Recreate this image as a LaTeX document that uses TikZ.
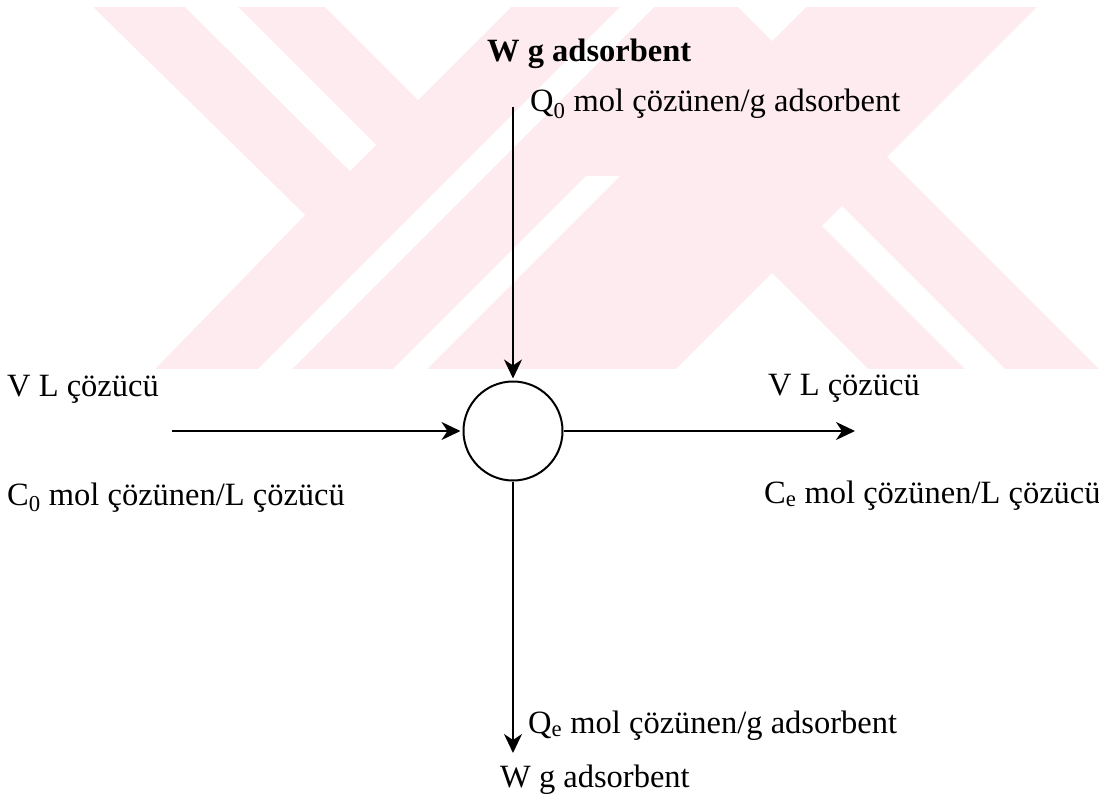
\documentclass[tikz,border=0pt]{standalone}
\usepackage{fontspec}
\setmainfont{Liberation Serif}
\usetikzlibrary{arrows.meta}
\definecolor{wm}{RGB}{253,235,239}
\tikzset{
  lbl/.style={anchor=base west, inner sep=0pt, font=\fontsize{32.5}{35}\selectfont},
  flow/.style={line width=1.8pt, shorten >=2pt, -{Stealth[length=19pt,width=18pt,inset=6pt]}},
  unit/.style={circle, draw, line width=2pt, minimum size=99pt, inner sep=0pt},
  wmfill/.style={fill=wm, draw=none},
  wmgap/.style={fill=white, draw=none}
}
\begin{document}
\begin{tikzpicture}[x=1pt,y=-1pt]
\useasboundingbox (0,0) rectangle (1099,797);
% watermark
\fill[wmfill] (0,7) rectangle (1099,369);
\fill[wmgap] (0,7) -- (93,7) -- (305,215) -- (155,369) -- (0,369) -- cycle;
\fill[wmgap] (185,7) -- (238,7) -- (376,145) -- (350,171) -- cycle;
\fill[wmgap] (325,7) -- (418,100) -- (511,7) -- cycle;
\fill[wmgap] (258,369) -- (292,369) -- (654,7) -- (620,7) -- cycle;
\fill[wmgap] (393,369) -- (427,369) -- (620,176) -- (586,176) -- cycle;
\fill[wmgap] (676,369) -- (772,273) -- (868,369) -- cycle;
\fill[wmgap] (822,226) -- (842,206) -- (1005,369) -- (965,369) -- cycle;
\fill[wmgap] (738,7) -- (772,41) -- (806,7) -- cycle;
\fill[wmgap] (1037,7) -- (887,157) -- (1099,369) -- (1099,7) -- cycle;
% diagram
\node[unit] (c) at (513,431) {};
\coordinate (topin) at (513,107);
\coordinate (lin) at (172,431);
\coordinate (rout) at (855,431);
\coordinate (bout) at (513,753);
\draw[flow] (topin) -- (c.north);
\draw[flow] (lin) -- (c.west);
\draw[flow, shorten >=0pt] (c.east) -- (rout);
\draw[flow, shorten >=0pt] (c.south) -- (bout);
\node[lbl, font=\fontsize{32.5}{35}\selectfont\bfseries] (wtop) at (487,62) {W g adsorbent};
\node[lbl] (qtop) at (530,112) {Q\textsubscript{0} mol çözünen/g adsorbent};
\node[lbl] (vl) at (7,396) {V L çözücü};
\node[lbl] (cl) at (7,505) {C\textsubscript{0} mol çözünen/L çözücü};
\node[lbl] (vr) at (768,395) {V L çözücü};
\node[lbl] (cr) at (764,503) {C\textsubscript{e} mol çözünen/L çözücü};
\node[lbl] (qb) at (528,733) {Q\textsubscript{e} mol çözünen/g adsorbent};
\node[lbl] (wb) at (500,787) {W g adsorbent};
\end{tikzpicture}
\end{document}
